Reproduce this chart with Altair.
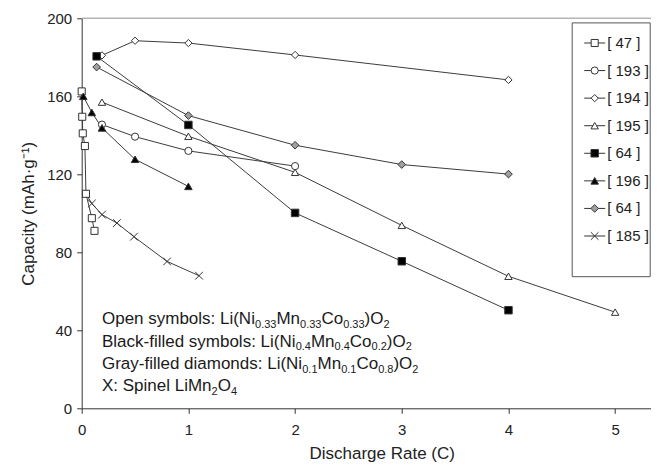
import altair as alt
import pandas as pd

# ---------------- data ----------------
series_keys = ["s47", "s193", "s194", "s195", "s64a", "s196", "s64b", "s185"]
series_labels = ["[ 47 ]", "[ 193 ]", "[ 194 ]", "[ 195 ]", "[ 64 ]", "[ 196 ]", "[ 64 ]", "[ 185 ]"]

rate_47 = [0.0, 0.005, 0.01, 0.03, 0.04, 0.095, 0.12]
cap_47 = [162.5, 149.5, 141.0, 134.5, 110.0, 97.5, 91.0]

rate_193 = [0.19, 0.5, 1.0, 2.0]
cap_193 = [145.5, 139.3, 132.0, 124.2]

rate_194 = [0.19, 0.5, 1.0, 2.0, 4.0]
cap_194 = [181.0, 188.5, 187.3, 181.2, 168.4]

rate_195 = [0.19, 1.0, 2.0, 3.0, 4.0, 5.0]
cap_195 = [157.0, 139.5, 121.0, 93.8, 67.7, 49.3]

rate_64a = [0.14, 1.0, 2.0, 3.0, 4.0]
cap_64a = [180.5, 145.3, 100.2, 75.4, 50.3]

rate_196 = [0.015, 0.095, 0.19, 0.5, 1.0]
cap_196 = [160.0, 151.7, 143.8, 127.7, 113.8]

rate_64b = [0.14, 1.0, 2.0, 3.0, 4.0]
cap_64b = [175.0, 150.1, 134.9, 125.0, 120.1]

rate_185 = [0.04, 0.095, 0.19, 0.33, 0.49, 0.8, 1.1]
cap_185 = [110.0, 105.0, 99.3, 95.0, 88.0, 75.3, 68.0]

x_ticks = [0, 1, 2, 3, 4, 5]
y_ticks = list(range(0, 201, 20))

# annotation lines: (text, is_subscript) segments
notes = [
    [("Open symbols: Li(Ni", 0), ("0.33", 1), ("Mn", 0), ("0.33", 1), ("Co", 0), ("0.33", 1), (")O", 0), ("2", 1)],
    [("Black-filled symbols: Li(Ni", 0), ("0.4", 1), ("Mn", 0), ("0.4", 1), ("Co", 0), ("0.2", 1), (")O", 0), ("2", 1)],
    [("Gray-filled diamonds: Li(Ni", 0), ("0.1", 1), ("Mn", 0), ("0.1", 1), ("Co", 0), ("0.8", 1), (")O", 0), ("2", 1)],
    [("X: Spinel LiMn", 0), ("2", 1), ("O", 0), ("4", 1)],
]

# ---------------- tables ----------------
all_rates = [rate_47, rate_193, rate_194, rate_195, rate_64a, rate_196, rate_64b, rate_185]
all_caps = [cap_47, cap_193, cap_194, cap_195, cap_64a, cap_196, cap_64b, cap_185]
rows = []
for idx, (k, xs, ys) in enumerate(zip(series_keys, all_rates, all_caps)):
    # draw the X series first so the open squares sit on top of it
    z = -1 if k == "s185" else idx
    for xv, yv in zip(xs, ys):
        rows.append({"series": k, "rate": xv, "cap": yv, "z": z})
df = pd.DataFrame(rows)
legend_df = pd.DataFrame({"series": series_keys, "label": series_labels})

# ---------------- styles ----------------
FONT = "Liberation Sans"
INK = "#333333"
X_PATH = "M-1,-1L1,1M-1,1L1,-1"
plot_shapes = ["square", "circle", "diamond", "triangle-up", "square", "triangle-up", "diamond", X_PATH]
fills = ["white", "white", "white", "white", "black", "black", "#a0a0a0", "transparent"]
sizes = [50, 60, 45, 60, 60, 64, 64, 55]

shape_enc = alt.Shape("series:N", scale=alt.Scale(domain=series_keys, range=plot_shapes), legend=None)
fill_enc = alt.Fill("series:N", scale=alt.Scale(domain=series_keys, range=fills), legend=None)
size_enc = alt.Size("series:N", scale=alt.Scale(domain=series_keys, range=sizes), legend=None)

PLOT_W, PLOT_H = 569.3, 390
X_MAX = 5.336

x_enc = alt.X(
    "rate:Q",
    scale=alt.Scale(domain=[0, X_MAX], nice=False, zero=False),
    axis=alt.Axis(
        values=x_ticks, format="d", title="Discharge Rate (C)", grid=False,
        tickSize=5, labelPadding=9, titlePadding=8, labelFlush=False, titleX=300,
    ),
)
y_enc = alt.Y(
    "cap:Q",
    scale=alt.Scale(domain=[0, 200], nice=False),
    axis=alt.Axis(
        values=y_ticks, title="Capacity (mAh\u00b7g\u207b\u00b9)", grid=False,
        tickSize=5, labelPadding=5, titlePadding=9, labelOverlap=False,
    ),
)

base = alt.Chart(df)

top_rule = alt.Chart(pd.DataFrame({"v": [200]})).mark_rule(
    color="#b5b5b5", strokeWidth=1.5
).encode(y=alt.Y("v:Q"))

lines = base.mark_line(color="#3c3c3c", strokeWidth=1).encode(
    x=x_enc, y=y_enc, detail="series:N"
)

points = base.mark_point(filled=True, stroke=INK, strokeWidth=1, opacity=1).encode(
    x="rate:Q", y="cap:Q",
    shape=shape_enc, fill=fill_enc, size=size_enc,
    order=alt.Order("z:Q"),
)

# ---------------- annotation text with real subscripts ----------------
ARIAL_W = {
    " ": 278, "(": 333, ")": 333, "-": 333, ".": 278, ":": 278,
    "B": 667, "C": 722, "G": 778, "L": 556, "M": 833, "N": 722, "O": 778, "S": 667, "X": 667,
    "a": 556, "b": 556, "c": 500, "d": 556, "e": 556, "f": 278, "i": 222, "k": 500,
    "l": 222, "m": 833, "n": 556, "o": 556, "p": 556, "r": 333, "s": 500, "y": 500,
}
for dgt in "0123456789":
    ARIAL_W[dgt] = 556

MAIN_FS, SUB_FS = 17, 11
note_layers = []
for i, segs in enumerate(notes):
    xpos = 20.3
    base_y = 306.2 + 22.3 * i
    for txt, sub in segs:
        fs = SUB_FS if sub else MAIN_FS
        note_layers.append(
            alt.Chart(pd.DataFrame({"t": [txt]})).mark_text(
                align="left", baseline="alphabetic", fontSize=fs, font=FONT, color="#1a1a1a"
            ).encode(x=alt.value(xpos), y=alt.value(base_y + (3.5 if sub else 0)), text="t:N")
        )
        xpos += sum(ARIAL_W.get(c, 556) for c in txt) / 1000.0 * fs

main = alt.layer(top_rule, lines, points, *note_layers)

# ---------------- legend box (drawn with marks) ----------------
leg_y = alt.Y(
    "series:N",
    scale=alt.Scale(type="point", domain=series_keys, range=[24.7, 217.7], padding=0),
    axis=None,
)
leg_base = alt.Chart(legend_df)
leg_box = alt.Chart(pd.DataFrame({"b": [0]})).mark_rect(
    fill="white", stroke="#555", strokeWidth=1
).encode(x=alt.value(490.5), x2=alt.value(568.5), y=alt.value(4.6), y2=alt.value(258.4))
leg_lines = leg_base.mark_rule(color=INK, strokeWidth=1).encode(
    x=alt.value(502.5), x2=alt.value(523.5), y=leg_y
)
leg_syms = leg_base.mark_point(filled=True, stroke=INK, strokeWidth=1, opacity=1).encode(
    x=alt.value(513), y=leg_y, shape=shape_enc, fill=fill_enc, size=size_enc
)
leg_text = leg_base.mark_text(
    align="left", baseline="middle", fontSize=15, font=FONT, color="#222"
).encode(x=alt.value(525.5), y=leg_y, text="label:N")

legend_block = alt.layer(leg_box, leg_lines, leg_syms, leg_text)

chart = alt.layer(main, legend_block).resolve_scale(y="independent").properties(
    width=PLOT_W, height=PLOT_H,
    autosize=alt.AutoSizeParams(type="none"),
    padding={"left": 73.7, "top": 10.3, "right": 0, "bottom": 57},
).configure(font=FONT).configure_view(stroke=None).configure_axis(
    domainColor="#333", tickColor="#333", labelColor="#222", titleColor="#222",
    labelFontSize=15, titleFontSize=17, labelFont=FONT, titleFont=FONT,
    titleFontWeight="normal",
)

chart.save("out.html", embed_options={"renderer": "svg", "actions": False})
